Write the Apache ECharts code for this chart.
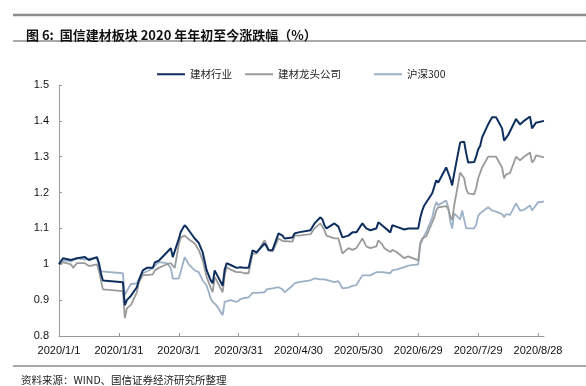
<!DOCTYPE html>
<html>
<head>
<meta charset="utf-8">
<script src="https://cdn.jsdelivr.net/npm/echarts@6/dist/echarts.min.js"></script>
<style>html,body{margin:0;padding:0;background:#fff;}#c{width:586px;height:386px;}</style>
</head>
<body>
<div id="c"></div>
<script>
const seriesNames = ['建材行业', '建材龙头公司', '沪深300'];
const tickLabels = ['2020/1/1','2020/1/31','2020/3/1','2020/3/31','2020/4/30','2020/5/30','2020/6/29','2020/7/29','2020/8/28'];
const dates = [
'2020-01-01','2020-01-03','2020-01-07','2020-01-08','2020-01-10','2020-01-14','2020-01-16','2020-01-17','2020-01-20','2020-01-21',
'2020-01-22','2020-01-23','2020-02-02','2020-02-03','2020-02-04','2020-02-06','2020-02-07','2020-02-09','2020-02-10','2020-02-12',
'2020-02-14','2020-02-17','2020-02-18','2020-02-20','2020-02-21','2020-02-24','2020-02-25','2020-02-26','2020-02-27','2020-02-28',
'2020-03-01','2020-03-02','2020-03-03','2020-03-04','2020-03-05','2020-03-06','2020-03-09','2020-03-10','2020-03-11','2020-03-13',
'2020-03-15','2020-03-17','2020-03-18','2020-03-19','2020-03-20','2020-03-23','2020-03-24','2020-03-25','2020-03-27','2020-03-30',
'2020-04-01','2020-04-03','2020-04-05','2020-04-07','2020-04-08','2020-04-09','2020-04-10','2020-04-13','2020-04-14','2020-04-15',
'2020-04-17','2020-04-20','2020-04-21','2020-04-22','2020-04-23','2020-04-27','2020-04-28','2020-04-30','2020-05-06','2020-05-08',
'2020-05-11','2020-05-12','2020-05-13','2020-05-14','2020-05-18','2020-05-20','2020-05-22','2020-05-25','2020-05-27','2020-05-29',
'2020-06-01','2020-06-03','2020-06-05','2020-06-08','2020-06-09','2020-06-11','2020-06-12','2020-06-15','2020-06-16','2020-06-18',
'2020-06-19','2020-06-22','2020-06-24','2020-06-29','2020-06-30','2020-07-01','2020-07-02','2020-07-03','2020-07-06','2020-07-07',
'2020-07-08','2020-07-09','2020-07-10','2020-07-13','2020-07-14','2020-07-15','2020-07-16','2020-07-17','2020-07-20','2020-07-21',
'2020-07-22','2020-07-23','2020-07-24','2020-07-27','2020-07-28','2020-07-29','2020-07-30','2020-07-31','2020-08-03','2020-08-04',
'2020-08-05','2020-08-07','2020-08-10','2020-08-11','2020-08-12','2020-08-13','2020-08-14','2020-08-17','2020-08-18','2020-08-19',
'2020-08-20','2020-08-21','2020-08-24','2020-08-25','2020-08-26','2020-08-27','2020-08-28','2020-08-31'
];
const jiancaiIndustry = [
1.000,1.017,1.012,1.008,1.017,1.020,1.012,1.010,1.020,1.003,
0.975,0.955,0.950,0.886,0.900,0.912,0.912,0.936,0.955,0.983,
0.990,0.990,1.005,1.010,1.015,1.033,1.030,1.045,1.020,1.015,
1.070,1.090,1.100,1.109,1.103,1.095,1.072,1.075,1.060,1.033,
0.983,0.955,0.947,0.983,0.978,0.940,0.985,1.003,0.998,0.990,
0.992,0.990,0.990,1.039,1.040,1.033,1.035,1.058,1.050,1.039,
1.040,1.086,1.089,1.080,1.072,1.075,1.086,1.089,1.095,1.114,
1.131,1.125,1.109,1.100,1.114,1.105,1.075,1.080,1.089,1.089,
1.114,1.100,1.095,1.100,1.117,1.108,1.103,1.089,1.109,1.105,
1.108,1.097,1.100,1.100,1.130,1.150,1.164,1.164,1.198,1.200,
1.234,1.228,1.230,1.270,1.265,1.240,1.220,1.253,1.340,1.340,
1.342,1.310,1.284,1.285,1.300,1.320,1.330,1.354,1.390,1.400,
1.410,1.410,1.379,1.345,1.350,1.360,1.360,1.405,1.410,1.390,
1.387,1.400,1.412,1.379,1.380,1.395,1.400,1.400
];
const leaderCompanies = [
1.000,1.005,1.000,0.990,1.003,1.003,0.995,0.990,1.000,0.983,
0.955,0.930,0.925,0.850,0.877,0.886,0.888,0.922,0.950,0.970,
0.970,0.972,0.983,0.990,0.995,1.000,0.998,1.003,1.003,0.990,
1.055,1.075,1.078,1.080,1.080,1.070,1.058,1.060,1.040,1.011,
0.964,0.935,0.922,0.965,0.962,0.922,0.970,0.992,0.985,0.978,
0.978,0.975,0.975,1.030,1.030,1.030,1.035,1.067,1.055,1.040,
1.035,1.072,1.075,1.065,1.061,1.063,1.080,1.080,1.084,1.100,
1.114,1.110,1.095,1.080,1.072,1.072,1.030,1.045,1.040,1.045,
1.072,1.050,1.045,1.050,1.067,1.055,1.045,1.034,1.040,1.035,
1.030,1.017,1.022,1.011,1.060,1.072,1.075,1.078,1.117,1.130,
1.150,1.159,1.158,1.162,1.155,1.135,1.123,1.164,1.256,1.256,
1.240,1.210,1.198,1.195,1.212,1.240,1.255,1.270,1.300,1.298,
1.300,1.300,1.270,1.240,1.250,1.253,1.255,1.300,1.304,1.290,
1.290,1.300,1.312,1.284,1.290,1.304,1.304,1.298
];
const hs300 = [
1.000,1.011,1.008,1.005,1.017,1.013,1.016,1.015,1.017,1.000,
0.980,0.975,0.975,0.914,0.925,0.945,0.947,0.947,0.958,0.975,
0.980,0.989,0.995,1.006,1.008,1.003,1.000,0.990,0.960,0.955,
0.960,0.980,1.000,1.020,1.010,1.000,0.983,0.985,0.978,0.955,
0.940,0.905,0.895,0.892,0.885,0.858,0.895,0.900,0.900,0.895,
0.903,0.906,0.908,0.920,0.920,0.920,0.918,0.922,0.930,0.933,
0.933,0.936,0.935,0.930,0.922,0.940,0.947,0.950,0.955,0.961,
0.958,0.955,0.958,0.955,0.950,0.953,0.933,0.935,0.940,0.942,
0.969,0.969,0.969,0.978,0.983,0.978,0.975,0.975,0.983,0.985,
0.986,0.992,0.996,1.000,1.055,1.067,1.080,1.090,1.130,1.156,
1.173,1.165,1.160,1.178,1.160,1.120,1.100,1.142,1.125,1.150,
1.145,1.100,1.097,1.100,1.110,1.135,1.142,1.142,1.159,1.155,
1.150,1.147,1.140,1.131,1.140,1.140,1.138,1.170,1.168,1.150,
1.145,1.152,1.164,1.150,1.150,1.165,1.173,1.175
];

const DAY = 86400000;
const base = Date.UTC(2020, 0, 1);
function dayIndex(s) {
  const p = s.split(/[-\/]/).map(Number);
  return Math.round((Date.UTC(p[0], p[1] - 1, p[2]) - base) / DAY);
}
function fmtDay(v) {
  const d = new Date(base + v * DAY);
  return d.getUTCFullYear() + '/' + (d.getUTCMonth() + 1) + '/' + d.getUTCDate();
}
const xs = dates.map(dayIndex);
const tickDays = tickLabels.map(dayIndex);
const colors = ['#0E2F5E', '#9B9B9B', '#9DB1C6'];
const values = [jiancaiIndustry, leaderCompanies, hs300];
const font = 'Liberation Sans, Arial, sans-serif';
const cjk = '"Noto Sans CJK SC", sans-serif';

const chart = echarts.init(document.getElementById('c'), null, {renderer: 'canvas'});
chart.setOption({
  animation: false,
  backgroundColor: '#fff',
  title: [
    {text: '图 6:  国信建材板块 2020 年年初至今涨跌幅（%）', left: 21, top: 24,
     textStyle: {fontSize: 13, fontWeight: 'bold', color: '#111', fontFamily: cjk}}
  ],
  graphic: [
    {type: 'line', shape: {x1: 13, y1: 15, x2: 586, y2: 15}, style: {stroke: '#8c8c8c', lineWidth: 2.5}},
    {type: 'line', shape: {x1: 13, y1: 41, x2: 586, y2: 41}, style: {stroke: '#8c8c8c', lineWidth: 1.5}},
    {type: 'line', shape: {x1: 13, y1: 366, x2: 586, y2: 366}, style: {stroke: '#8c8c8c', lineWidth: 1.5}},
    {type: 'text', x: 21, y: 380,
     style: {text: '资料来源：WIND、国信证券经济研究所整理', fill: '#222', fontSize: 10.5,
             fontFamily: cjk, verticalAlign: 'middle', align: 'left'}}
  ],
  legend: seriesNames.map((n, i) => ({
    data: [{name: n, icon: 'rect'}],
    left: [152, 240, 369][i], top: 64,
    itemWidth: 28, itemHeight: 2, itemGap: 10,
    textStyle: {fontSize: 10.5, color: '#222', fontFamily: cjk, padding: [0, 0, 0, 0]}
  })),
  grid: {left: 59, right: 42, top: 85, bottom: 50},
  xAxis: {
    type: 'value', min: 0, max: dayIndex('2020-08-31'), interval: 30,
    axisLine: {lineStyle: {color: '#999', width: 1}},
    axisTick: {show: true, inside: true, length: 3, lineStyle: {color: '#999'}, customValues: tickDays},
    axisLabel: {color: '#111', fontSize: 11, fontFamily: font, margin: 9, formatter: fmtDay,
                customValues: tickDays},
    splitLine: {show: false}
  },
  yAxis: {
    type: 'value', min: 0.8, max: 1.5, interval: 0.1,
    axisLine: {show: true, lineStyle: {color: '#999', width: 1}},
    axisTick: {show: true, inside: true, length: 3, lineStyle: {color: '#999'}},
    axisLabel: {color: '#111', fontSize: 11, fontFamily: font, margin: 10,
                formatter: v => String(Math.round(v * 10) / 10)},
    splitLine: {show: false}
  },
  series: seriesNames.map((n, i) => ({
    name: n, type: 'line', showSymbol: false, symbol: 'none',
    data: xs.map((x, k) => [x, values[i][k]]),
    lineStyle: {color: colors[i], width: i === 0 ? 2 : 1.8},
    itemStyle: {color: colors[i]},
    z: 3 - i
  }))
});
</script>
</body>
</html>
